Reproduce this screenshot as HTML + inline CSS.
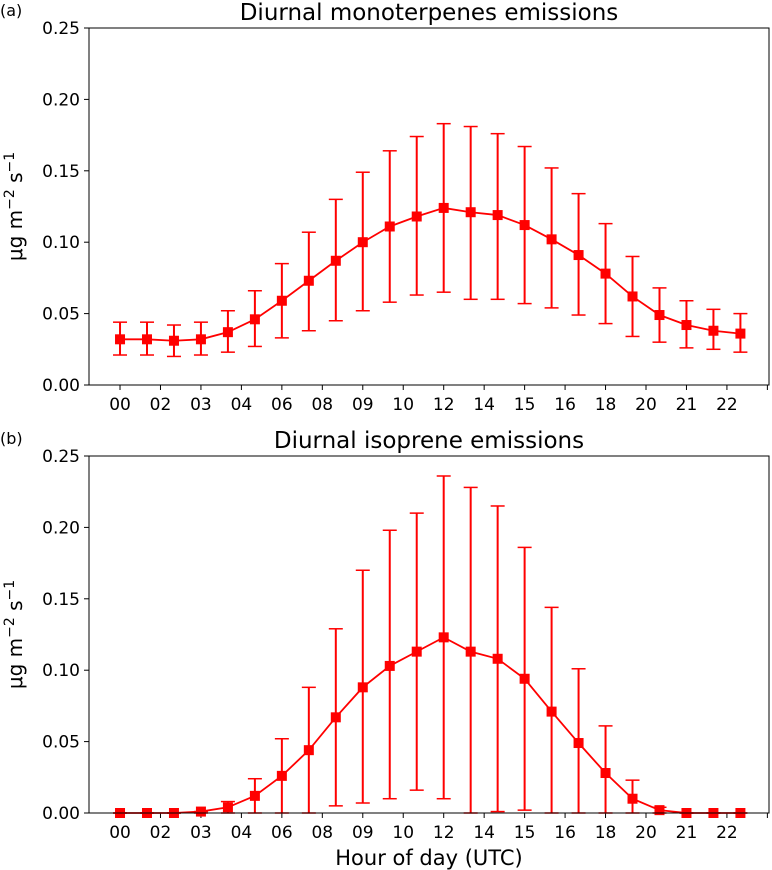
<!DOCTYPE html>
<html><head><meta charset="utf-8"><style>
body{margin:0;background:#fff}
svg{display:block;font-family:"DejaVu Sans","Liberation Sans",sans-serif}
</style></head><body>
<svg id="fig" width="772" height="870" xmlns="http://www.w3.org/2000/svg"></svg>
<script>
const hours=[0,1,2,3,4,5,6,7,8,9,10,11,12,13,14,15,16,17,18,19,20,21,22,23];
const tickLabels=["00","02","03","04","06","08","09","10","12","14","15","16","18","20","21","22",""];
const yTicks=[0,0.05,0.10,0.15,0.20,0.25];
const monoMean=[.032,.032,.031,.032,.037,.046,.059,.073,.087,.100,.111,.118,.124,.121,.119,.112,.102,.091,.078,.062,.049,.042,.038,.036];
const monoUpper=[.044,.044,.042,.044,.052,.066,.085,.107,.130,.149,.164,.174,.183,.181,.176,.167,.152,.134,.113,.090,.068,.059,.053,.050];
const monoLower=[.021,.021,.020,.021,.023,.027,.033,.038,.045,.052,.058,.063,.065,.060,.060,.057,.054,.049,.043,.034,.030,.026,.025,.023];
const isoMean=[0,0,0,.001,.004,.012,.026,.044,.067,.088,.103,.113,.123,.113,.108,.094,.071,.049,.028,.010,.002,0,0,0];
const isoUpper=[0,0,0,.001,.008,.024,.052,.088,.129,.170,.198,.210,.236,.228,.215,.186,.144,.101,.061,.023,.004,0,0,0];
const isoLower=[0,0,0,0,0,0,0,0,.005,.007,.010,.016,.010,0,.001,.002,0,0,0,0,0,0,0,0];

const NS="http://www.w3.org/2000/svg";
const svg=document.getElementById('fig');
function mk(tag,attrs,parent){const e=document.createElementNS(NS,tag);for(const k in attrs)e.setAttribute(k,attrs[k]);(parent||svg).appendChild(e);return e;}
const L=89,R=769,xmin=-1.15,xmax=24.06;
function xs(h){return L+(h-xmin)/(xmax-xmin)*(R-L);}

function panel(top,bottom,title,letter,mean,up,lo,key){
  const g=mk('g',{});
  
  
  const ys=v=>bottom-v/0.25*(bottom-top);
  const t=mk('text',{x:(L+R)/2,y:top-8,'text-anchor':'middle','font-size':23},g);t.textContent=title;
  
  const pl=mk('text',{x:0,y:top-12,'font-size':16},g);pl.textContent=letter;
  
  yTicks.forEach(v=>{
    mk('line',{x1:L-5,x2:L,y1:ys(v),y2:ys(v),stroke:'#000'},g);
    const tx=mk('text',{x:L-9,y:ys(v)+6,'text-anchor':'end','font-size':17},g);tx.textContent=v.toFixed(2);
    
  });
  tickLabels.forEach((lab,j)=>{
    const x=xs(j*1.5);
    mk('line',{x1:x,x2:x,y1:bottom,y2:bottom+5,stroke:'#000'},g);
    if(lab){const tx=mk('text',{x:x,y:bottom+25,'text-anchor':'middle','font-size':17},g);tx.textContent=lab;
    }
  });
  const yl=mk('text',{transform:`translate(22,${(top+bottom)/2}) rotate(-90)`,'text-anchor':'middle','font-size':20},g);
  yl.innerHTML='μg m<tspan dy="-8" font-size="14">−2</tspan><tspan dy="8"> s</tspan><tspan dy="-8" font-size="14">−1</tspan>';
  
  hours.forEach((h,i)=>{
    const x=xs(h);
    mk('line',{x1:x,x2:x,y1:ys(lo[i]),y2:ys(up[i]),stroke:'#f00','stroke-width':2},g);
    mk('line',{x1:x-7,x2:x+7,y1:ys(lo[i]),y2:ys(lo[i]),stroke:'#f00','stroke-width':1.5},g);
    mk('line',{x1:x-7,x2:x+7,y1:ys(up[i]),y2:ys(up[i]),stroke:'#f00','stroke-width':1.5},g);
  });
  const line=mk('polyline',{points:hours.map((h,i)=>xs(h)+','+ys(mean[i])).join(' '),fill:'none',stroke:'#f00','stroke-width':1.8},g);
  
  hours.forEach((h,i)=>{
    const m=mk('rect',{x:xs(h)-5,y:ys(mean[i])-5,width:10,height:10,fill:'#f00'},g);
    
  });
  mk('rect',{x:L,y:top,width:R-L,height:bottom-top,fill:'none',stroke:'#000','stroke-width':1},g);
}
panel(28,385,'Diurnal monoterpenes emissions','(a)',monoMean,monoUpper,monoLower,'monoterpenes');
panel(456,813,'Diurnal isoprene emissions','(b)',isoMean,isoUpper,isoLower,'isoprene');
const xl=mk('text',{x:(L+R)/2,y:865,'text-anchor':'middle','font-size':21});xl.textContent='Hour of day (UTC)';


</script>
</body></html>
